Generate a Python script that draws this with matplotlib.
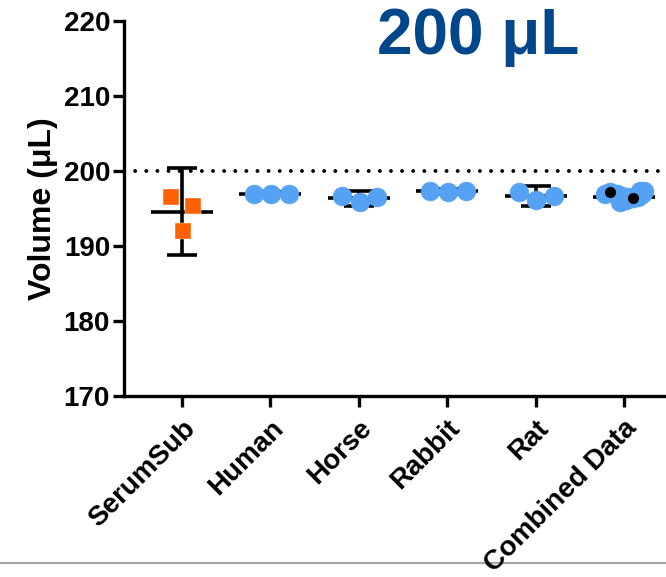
import matplotlib
matplotlib.use("Agg")
import matplotlib.pyplot as plt
from matplotlib.lines import Line2D

plt.rcParams['font.family'] = ['Liberation Sans', 'DejaVu Sans']
plt.rcParams['font.weight'] = 'bold'

# data
groups = ["SerumSub", "Human", "Horse", "Rabbit", "Rat", "Combined Data"]
serumsub = [196.5, 195.3, 192.0]
human = [197.0, 196.9, 197.0]
horse = [196.7, 195.9, 196.6]
rabbit = [197.4, 197.2, 197.3]
rat = [197.2, 196.1, 196.7]
combined = [197.2, 197.0, 196.9, 196.7, 196.6, 196.4, 196.1, 195.9, 196.6, 197.3, 197.4, 197.0]
combined_dx = [-0.16, -0.22, -0.08, -0.02, 0.04, 0.10, 0.02, -0.05, 0.16, 0.18, 0.23, 0.20]
combined_black = [True, False, False, False, False, True, False, False, False, False, False, False]

means = [194.6, 197.0, 196.4, 197.3, 196.7, 196.6]
err_lo = [5.8, 0.2, 1.1, 0.3, 1.3, 0.2]
err_hi = [5.8, 0.2, 1.0, 0.3, 1.3, 0.2]
point_dx = [[-0.12, 0.13, 0.01], [-0.19, 0.01, 0.21], [-0.19, 0.01, 0.21],
            [-0.19, 0.01, 0.21], [-0.19, 0.01, 0.21]]
target = 200

blue = '#55a2f4'
orange = '#ff6000'
title_blue = '#00468b'

fig = plt.figure(figsize=(6.66, 5.77), dpi=100)
ax = fig.add_axes([124 / 666, 1 - 396 / 577, 1 - 124 / 666, (396 - 21) / 577])

# target dotted line
ax.axhline(target, color='black', lw=2.8, linestyle=(0, (0.01, 2.85)),
           dash_capstyle='round', zorder=1)

# mean lines and error bars
for i, m in enumerate(means):
    ax.hlines(m, i - 0.35, i + 0.35, color='black', lw=2.6, zorder=2)
    ax.errorbar(i, m, yerr=[[err_lo[i]], [err_hi[i]]], fmt='none', ecolor='black',
                elinewidth=2.6, capsize=11, capthick=2.6, zorder=2)

# points
ax.plot([0 + d for d in point_dx[0]], serumsub, 's', color=orange, ms=12,
        mec='white', mew=0.3, zorder=3)
for i, vals in enumerate([human, horse, rabbit, rat], start=1):
    ax.plot([i + d for d in point_dx[i]], vals, 'o', color=blue, ms=13.5,
            mec=blue, mew=0.5, zorder=3)

for v, d in zip(combined, combined_dx):
    ax.plot(5 + d, v, 'o', color=blue, ms=13.5, mec=blue, mew=0.5, zorder=3)
for v, d, b in zip(combined, combined_dx, combined_black):
    if b:
        ax.plot(5 + d, v, 'o', color='black', ms=7, mec='black', zorder=4)

ax.set_xlim(-0.656, 5.475)
ax.set_ylim(170, 220)
ax.set_yticks([170, 180, 190, 200, 210, 220])
ax.set_xticks(range(len(groups)))
ax.set_xticklabels(groups, rotation=45, ha='right', va='top', rotation_mode='anchor')

for s in ['top', 'right']:
    ax.spines[s].set_visible(False)
for s in ['left', 'bottom']:
    ax.spines[s].set_linewidth(2.4)
ax.tick_params(axis='both', width=2.4, length=8, labelsize=20, pad=2)
ax.tick_params(axis='x', pad=6)

ax.set_ylabel('Volume (μL)', fontsize=23, fontweight='bold', labelpad=4)

fig.text(478 / 666, 1 - 37 / 577, '200 μL', fontsize=46, fontweight='bold',
         color=title_blue, ha='center', va='center')

# grey rule across the bottom
fig.add_artist(Line2D([0, 1], [1 - 563 / 577] * 2, color='#a6a6a6', lw=1.6, zorder=0))

fig.savefig('out.png', dpi=100)
